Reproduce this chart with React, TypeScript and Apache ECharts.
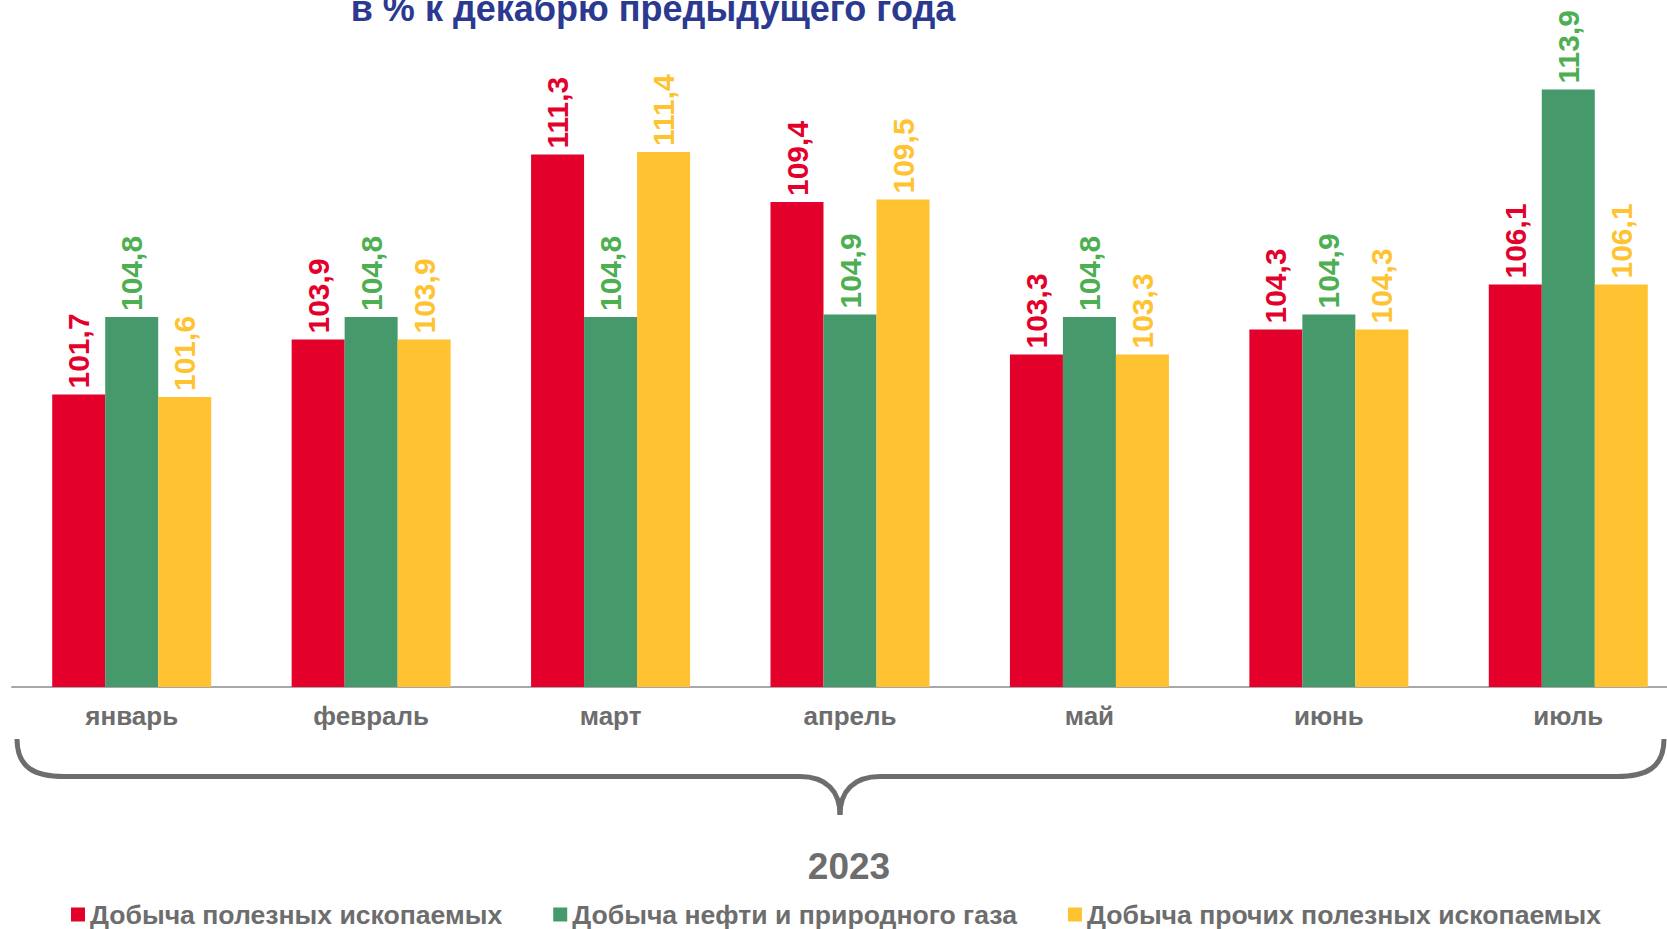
import React, { useEffect, useRef } from "react";
import * as echarts from "echarts";

const categories = ["январь", "февраль", "март", "апрель", "май", "июнь", "июль"];
const seriesNames = [
  "Добыча полезных ископаемых",
  "Добыча нефти и природного газа",
  "Добыча прочих полезных ископаемых",
];
const allMining = [101.7, 103.9, 111.3, 109.4, 103.3, 104.3, 106.1];
const oilGas = [104.8, 104.8, 104.8, 104.9, 104.8, 104.9, 113.9];
const otherMining = [101.6, 103.9, 111.4, 109.5, 103.3, 104.3, 106.1];
const titleText = "в % к декабрю предыдущего года";
const yearText = "2023";

const FONT = '"Liberation Sans", Arial, sans-serif';
const GRAY = "#6D6D6D";
const barColors = ["#E3002B", "#45996A", "#FFC230"];
const labelColors = ["#E3002B", "#4DAE52", "#FFC230"];

const fmt = (v: number) => v.toFixed(1).replace(".", ",");

export default function App() {
  const ref = useRef<HTMLDivElement>(null);
  useEffect(() => {
    if (!ref.current) return;
    const chart = echarts.init(ref.current, undefined, { renderer: "svg" });
    const data = [allMining, oilGas, otherMining];
    chart.setOption({
      animation: false,
      backgroundColor: "#ffffff",
      grid: {
        left: 12,
        width: 1676,
        top: 37,
        height: 650,
        containLabel: false,
        outerBoundsMode: "none",
      },
      xAxis: {
        type: "category",
        data: categories,
        axisLine: { show: true, lineStyle: { color: "#A8A8A8", width: 2 } },
        axisTick: { show: false },
        axisLabel: {
          color: GRAY,
          fontFamily: FONT,
          fontWeight: "bold",
          fontSize: 26,
          margin: 16,
        },
      },
      yAxis: {
        type: "value",
        min: 90,
        max: 116,
        show: false,
        splitLine: { show: false },
      },
      legend: {
        left: 71,
        top: 901,
        padding: 0,
        itemWidth: 14,
        itemHeight: 14,
        itemGap: 51,
        icon: "rect",
        textStyle: { color: GRAY, fontFamily: FONT, fontWeight: "bold", fontSize: 26.6 },
        data: seriesNames,
      },
      series: seriesNames.map((name, i) => ({
        name,
        type: "bar",
        data: data[i],
        barWidth: 53,
        barGap: "0%",
        itemStyle: { color: barColors[i] },
        label: {
          show: true,
          position: "top",
          distance: 6,
          rotate: 90,
          align: "left",
          verticalAlign: "middle",
          color: labelColors[i],
          fontFamily: FONT,
          fontWeight: "bold",
          fontSize: 30,
          formatter: (p: any) => fmt(p.value),
        },
      })),
      graphic: [
        {
          type: "text",
          x: 653,
          y: 8,
          style: {
            text: titleText,
            fill: "#2B3990",
            fontFamily: FONT,
            fontWeight: "bold",
            fontSize: 36,
            align: "center",
            verticalAlign: "middle",
          },
        },
        {
          type: "text",
          x: 849,
          y: 866,
          style: {
            text: yearText,
            fill: GRAY,
            fontFamily: FONT,
            fontWeight: "bold",
            fontSize: 37,
            align: "center",
            verticalAlign: "middle",
          },
        },
        {
          type: "bezierCurve",
          shape: { x1: 17, y1: 739, cpx1: 17, cpy1: 768, cpx2: 35, cpy2: 776.5, x2: 64, y2: 776.5 },
          style: { stroke: GRAY, lineWidth: 5, fill: null },
        },
        {
          type: "line",
          shape: { x1: 64, y1: 776.5, x2: 800, y2: 776.5 },
          style: { stroke: GRAY, lineWidth: 5 },
        },
        {
          type: "bezierCurve",
          shape: { x1: 800, y1: 776.5, cpx1: 826, cpy1: 776.5, cpx2: 840, cpy2: 791, x2: 840, y2: 815 },
          style: { stroke: GRAY, lineWidth: 5, fill: null },
        },
        {
          type: "bezierCurve",
          shape: { x1: 880, y1: 776.5, cpx1: 854, cpy1: 776.5, cpx2: 840, cpy2: 791, x2: 840, y2: 815 },
          style: { stroke: GRAY, lineWidth: 5, fill: null },
        },
        {
          type: "line",
          shape: { x1: 880, y1: 776.5, x2: 1617, y2: 776.5 },
          style: { stroke: GRAY, lineWidth: 5 },
        },
        {
          type: "bezierCurve",
          shape: { x1: 1664, y1: 739, cpx1: 1664, cpy1: 768, cpx2: 1646, cpy2: 776.5, x2: 1617, y2: 776.5 },
          style: { stroke: GRAY, lineWidth: 5, fill: null },
        },
      ],
    });
    return () => chart.dispose();
  }, []);
  return (
    <div
      ref={ref}
      style={{ position: "fixed", left: 0, top: 0, width: 1667, height: 929 }}
    />
  );
}
